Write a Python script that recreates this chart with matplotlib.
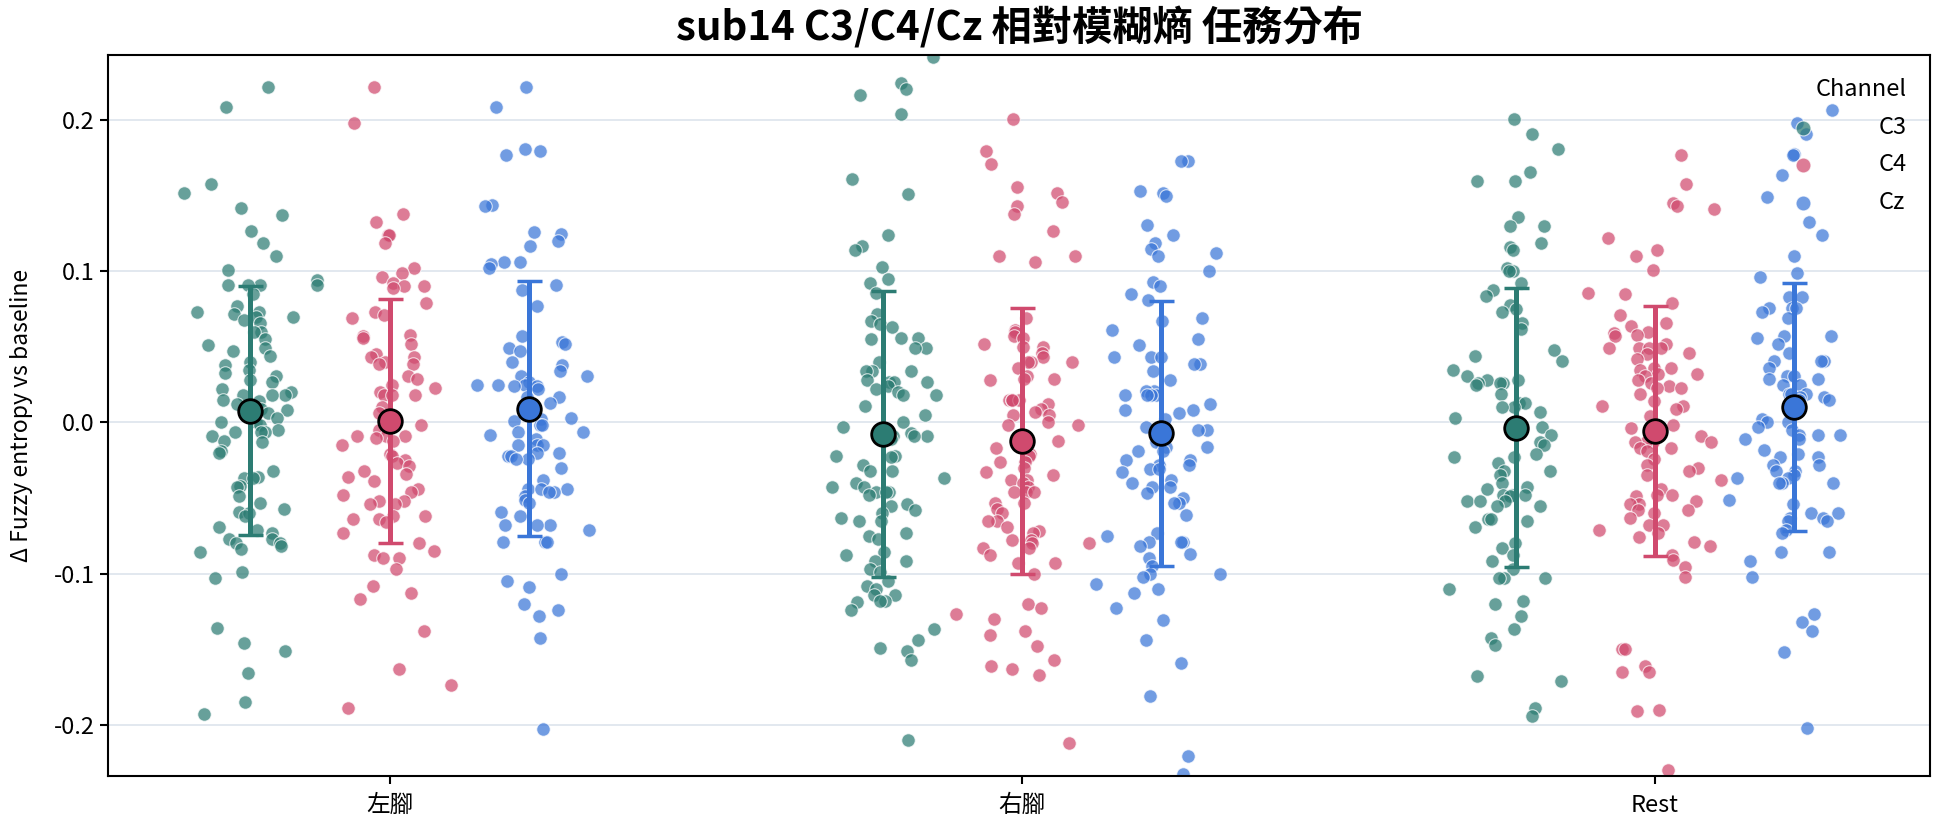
import numpy as np
import matplotlib
matplotlib.use("Agg")
import matplotlib.pyplot as plt

plt.rcParams['font.family'] = ['Noto Sans CJK TC', 'DejaVu Sans']
plt.rcParams['axes.unicode_minus'] = False

tasks = ["左腳", "右腳", "Rest"]
channels = ["C3", "C4", "Cz"]
colors = {"C3": "#2c7c73", "C4": "#d04a6e", "Cz": "#3a76d8"}

# values, one list per task / channel
left_c3 = [0.222, 0.209, 0.158, 0.152, 0.142, 0.137, 0.127, 0.119, 0.110, 0.101, 0.094,
           0.091, 0.091, 0.091, 0.091, 0.085, 0.077, 0.073, 0.073, 0.072, 0.070, 0.070,
           0.068, 0.066, 0.060, 0.060, 0.055, 0.051, 0.049, 0.047, 0.044, 0.040, 0.038,
           0.035, 0.033, 0.031, 0.028, 0.027, 0.022, 0.020, 0.018, 0.018, 0.018, 0.015,
           0.014, 0.012, 0.009, 0.008, 0.006, 0.003, 0.0, 0.0, -0.002, -0.005, -0.006,
           -0.006, -0.006, -0.009, -0.012, -0.013, -0.019, -0.020, -0.032, -0.036, -0.037,
           -0.037, -0.042, -0.043, -0.049, -0.053, -0.057, -0.059, -0.060, -0.062, -0.069,
           -0.071, -0.073, -0.077, -0.077, -0.080, -0.080, -0.082, -0.084, -0.086, -0.099,
           -0.103, -0.136, -0.146, -0.151, -0.166, -0.185, -0.193]
left_c4 = [0.222, 0.198, 0.138, 0.133, 0.124, 0.124, 0.119, 0.102, 0.099, 0.096, 0.092,
           0.090, 0.090, 0.089, 0.079, 0.073, 0.071, 0.069, 0.058, 0.057, 0.056, 0.052,
           0.045, 0.043, 0.043, 0.040, 0.039, 0.039, 0.031, 0.029, 0.025, 0.023, 0.020,
           0.018, 0.018, 0.018, 0.010, 0.006, 0.002, -0.002, -0.005, -0.009, -0.009, -0.009,
           -0.010, -0.012, -0.015, -0.021, -0.022, -0.025, -0.027, -0.029, -0.032, -0.034,
           -0.036, -0.039, -0.044, -0.046, -0.048, -0.052, -0.052, -0.054, -0.054, -0.062,
           -0.062, -0.064, -0.064, -0.066, -0.073, -0.080, -0.085, -0.088, -0.090, -0.090,
           -0.097, -0.108, -0.113, -0.117, -0.138, -0.163, -0.174, -0.189]
left_cz = [0.222, 0.209, 0.181, 0.180, 0.177, 0.144, 0.143, 0.126, 0.125, 0.120, 0.117,
           0.106, 0.106, 0.105, 0.102, 0.091, 0.088, 0.077, 0.057, 0.053, 0.052, 0.049,
           0.047, 0.040, 0.038, 0.034, 0.031, 0.031, 0.027, 0.025, 0.025, 0.025, 0.024,
           0.024, 0.022, 0.017, 0.017, 0.013, 0.003, 0.002, 0.001, -0.002, -0.002, -0.006,
           -0.006, -0.008, -0.011, -0.015, -0.015, -0.015, -0.020, -0.020, -0.022, -0.022,
           -0.024, -0.024, -0.030, -0.038, -0.044, -0.044, -0.044, -0.046, -0.046, -0.049,
           -0.051, -0.053, -0.059, -0.062, -0.068, -0.068, -0.068, -0.071, -0.079, -0.079,
           -0.079, -0.100, -0.105, -0.109, -0.120, -0.124, -0.128, -0.143, -0.203]
right_c3 = [0.242, 0.225, 0.221, 0.217, 0.204, 0.161, 0.151, 0.124, 0.117, 0.114, 0.103,
            0.095, 0.092, 0.086, 0.072, 0.067, 0.065, 0.063, 0.056, 0.056, 0.055, 0.049,
            0.049, 0.040, 0.034, 0.034, 0.034, 0.028, 0.027, 0.027, 0.027, 0.024, 0.022,
            0.020, 0.018, 0.018, 0.011, 0.005, 0.0, -0.003, -0.007, -0.009, -0.009, -0.009,
            -0.011, -0.022, -0.022, -0.023, -0.028, -0.032, -0.032, -0.037, -0.040, -0.043,
            -0.043, -0.046, -0.046, -0.046, -0.048, -0.054, -0.055, -0.058, -0.060, -0.063,
            -0.065, -0.065, -0.073, -0.075, -0.077, -0.086, -0.088, -0.092, -0.092, -0.097,
            -0.099, -0.105, -0.108, -0.110, -0.114, -0.114, -0.118, -0.118, -0.119, -0.124,
            -0.137, -0.144, -0.149, -0.151, -0.157, -0.210]
right_c4 = [0.201, 0.180, 0.171, 0.156, 0.152, 0.146, 0.143, 0.138, 0.127, 0.110, 0.110,
            0.106, 0.069, 0.061, 0.060, 0.057, 0.056, 0.052, 0.050, 0.050, 0.046, 0.043,
            0.040, 0.040, 0.040, 0.036, 0.031, 0.029, 0.029, 0.028, 0.015, 0.015, 0.015,
            0.015, 0.012, 0.009, 0.007, 0.005, 0.005, 0.0, -0.002, -0.002, -0.009, -0.012,
            -0.017, -0.021, -0.022, -0.026, -0.026, -0.030, -0.033, -0.035, -0.038, -0.038,
            -0.040, -0.043, -0.046, -0.046, -0.046, -0.053, -0.053, -0.057, -0.060, -0.065,
            -0.065, -0.069, -0.072, -0.073, -0.078, -0.078, -0.080, -0.080, -0.083, -0.083,
            -0.088, -0.093, -0.093, -0.100, -0.120, -0.123, -0.127, -0.130, -0.138, -0.141,
            -0.148, -0.157, -0.161, -0.163, -0.167, -0.212]
right_cz = [0.173, 0.173, 0.153, 0.152, 0.150, 0.131, 0.124, 0.119, 0.115, 0.112, 0.110,
            0.100, 0.093, 0.090, 0.085, 0.081, 0.069, 0.067, 0.061, 0.055, 0.051, 0.043,
            0.043, 0.043, 0.039, 0.039, 0.034, 0.028, 0.021, 0.021, 0.018, 0.018, 0.018,
            0.018, 0.012, 0.008, 0.008, 0.006, 0.002, -0.003, -0.005, -0.005, -0.013, -0.013,
            -0.016, -0.016, -0.019, -0.019, -0.025, -0.025, -0.028, -0.028, -0.031, -0.031,
            -0.033, -0.038, -0.040, -0.043, -0.043, -0.047, -0.050, -0.053, -0.053, -0.061,
            -0.073, -0.075, -0.079, -0.079, -0.079, -0.082, -0.087, -0.090, -0.095, -0.100,
            -0.100, -0.102, -0.107, -0.110, -0.113, -0.123, -0.131, -0.144, -0.159, -0.181,
            -0.221, -0.233]
rest_c3 = [0.201, 0.191, 0.181, 0.166, 0.160, 0.160, 0.136, 0.130, 0.130, 0.119, 0.116,
           0.114, 0.102, 0.100, 0.100, 0.092, 0.088, 0.084, 0.078, 0.075, 0.073, 0.066,
           0.062, 0.048, 0.044, 0.041, 0.035, 0.031, 0.028, 0.028, 0.026, 0.026, 0.026,
           0.025, 0.019, 0.013, 0.013, 0.010, 0.010, 0.007, 0.003, -0.001, -0.003, -0.008,
           -0.013, -0.015, -0.021, -0.023, -0.023, -0.027, -0.032, -0.032, -0.035, -0.040,
           -0.043, -0.044, -0.048, -0.048, -0.048, -0.049, -0.052, -0.052, -0.052, -0.055,
           -0.055, -0.064, -0.064, -0.065, -0.069, -0.080, -0.083, -0.088, -0.092, -0.097,
           -0.103, -0.103, -0.103, -0.110, -0.118, -0.120, -0.128, -0.137, -0.143, -0.147,
           -0.168, -0.171, -0.189, -0.194]
rest_c4 = [0.177, 0.158, 0.145, 0.143, 0.141, 0.122, 0.114, 0.110, 0.101, 0.086, 0.085,
           0.079, 0.071, 0.066, 0.064, 0.060, 0.059, 0.058, 0.057, 0.052, 0.049, 0.049,
           0.049, 0.049, 0.046, 0.045, 0.042, 0.036, 0.036, 0.035, 0.032, 0.032, 0.031,
           0.028, 0.026, 0.024, 0.023, 0.023, 0.019, 0.014, 0.011, 0.011, 0.009, 0.004,
           -0.002, -0.004, -0.009, -0.013, -0.013, -0.013, -0.013, -0.017, -0.017, -0.019,
           -0.024, -0.028, -0.030, -0.032, -0.035, -0.038, -0.044, -0.048, -0.048, -0.049,
           -0.052, -0.054, -0.054, -0.058, -0.058, -0.060, -0.063, -0.068, -0.068, -0.071,
           -0.073, -0.076, -0.079, -0.082, -0.088, -0.091, -0.096, -0.102, -0.150, -0.150,
           -0.161, -0.165, -0.165, -0.190, -0.191, -0.230]
rest_cz = [0.207, 0.198, 0.191, 0.178, 0.177, 0.164, 0.149, 0.133, 0.124, 0.110, 0.099,
           0.096, 0.083, 0.083, 0.076, 0.076, 0.076, 0.073, 0.069, 0.057, 0.057, 0.056,
           0.052, 0.046, 0.041, 0.041, 0.041, 0.036, 0.031, 0.031, 0.029, 0.029, 0.025,
           0.025, 0.019, 0.019, 0.019, 0.017, 0.017, 0.015, 0.015, 0.002, 0.0, 0.0, -0.003,
           -0.005, -0.008, -0.008, -0.008, -0.011, -0.011, -0.018, -0.021, -0.023, -0.023,
           -0.028, -0.028, -0.032, -0.032, -0.035, -0.037, -0.037, -0.040, -0.040, -0.040,
           -0.051, -0.054, -0.060, -0.060, -0.063, -0.063, -0.065, -0.065, -0.071, -0.073,
           -0.086, -0.086, -0.092, -0.102, -0.127, -0.132, -0.138, -0.152, -0.202]

data = {
    "左腳": {"C3": left_c3, "C4": left_c4, "Cz": left_cz},
    "右腳": {"C3": right_c3, "C4": right_c4, "Cz": right_cz},
    "Rest": {"C3": rest_c3, "C4": rest_c4, "Cz": rest_cz},
}

offset = 0.22
rng = np.random.default_rng(14)

fig = plt.figure(figsize=(19.44, 8.27), dpi=100)
ax = fig.add_axes([0.0556, 0.0617, 0.9372, 0.8723])

for i, task in enumerate(tasks):
    for j, ch in enumerate(channels):
        vals = np.array(data[task][ch])
        xc = i + (j - 1) * offset
        # jitter, a bit denser near the middle like the original
        xs = xc + np.clip(rng.normal(0, 0.04, len(vals)), -0.105, 0.105)
        ax.scatter(xs, vals, s=95, color=colors[ch], alpha=0.72, edgecolor="white",
                   linewidth=0.8, zorder=2, label=ch if i == 0 else None)
        m, sd = vals.mean(), vals.std(ddof=1)
        ax.errorbar(xc, m, yerr=sd, color=colors[ch], lw=3.6, capsize=9, capthick=2.5,
                    zorder=3)
        ax.plot(xc, m, "o", ms=17, color=colors[ch], mec="black", mew=2, zorder=4)

ax.set_xlim(-0.445, 2.435)
ax.set_ylim(-0.234, 0.2435)
ax.set_xticks(range(len(tasks)))
ax.set_xticklabels(tasks)
ax.set_yticks([-0.2, -0.1, 0.0, 0.1, 0.2])
ax.tick_params(labelsize=17, length=6, width=1.5)
ax.tick_params(axis="x", pad=7)
ax.yaxis.grid(True, color="#dde4ec", lw=1.2, zorder=0)
ax.set_axisbelow(True)
for s in ax.spines.values():
    s.set_linewidth(1.5)

ax.set_ylabel("Δ Fuzzy entropy vs baseline", fontsize=16.5, labelpad=15)
ax.set_title("sub14 C3/C4/Cz 相對模糊熵 任務分布", fontsize=29, fontweight="bold", pad=10)

leg = ax.legend(title="Channel", loc="upper right", frameon=False, fontsize=17,
                title_fontsize=17, alignment="right", markerscale=1.1,
                labelspacing=0.62, handletextpad=2.2, borderaxespad=0.6)
leg.set_zorder(5)

fig.savefig("out.png", dpi=100)
